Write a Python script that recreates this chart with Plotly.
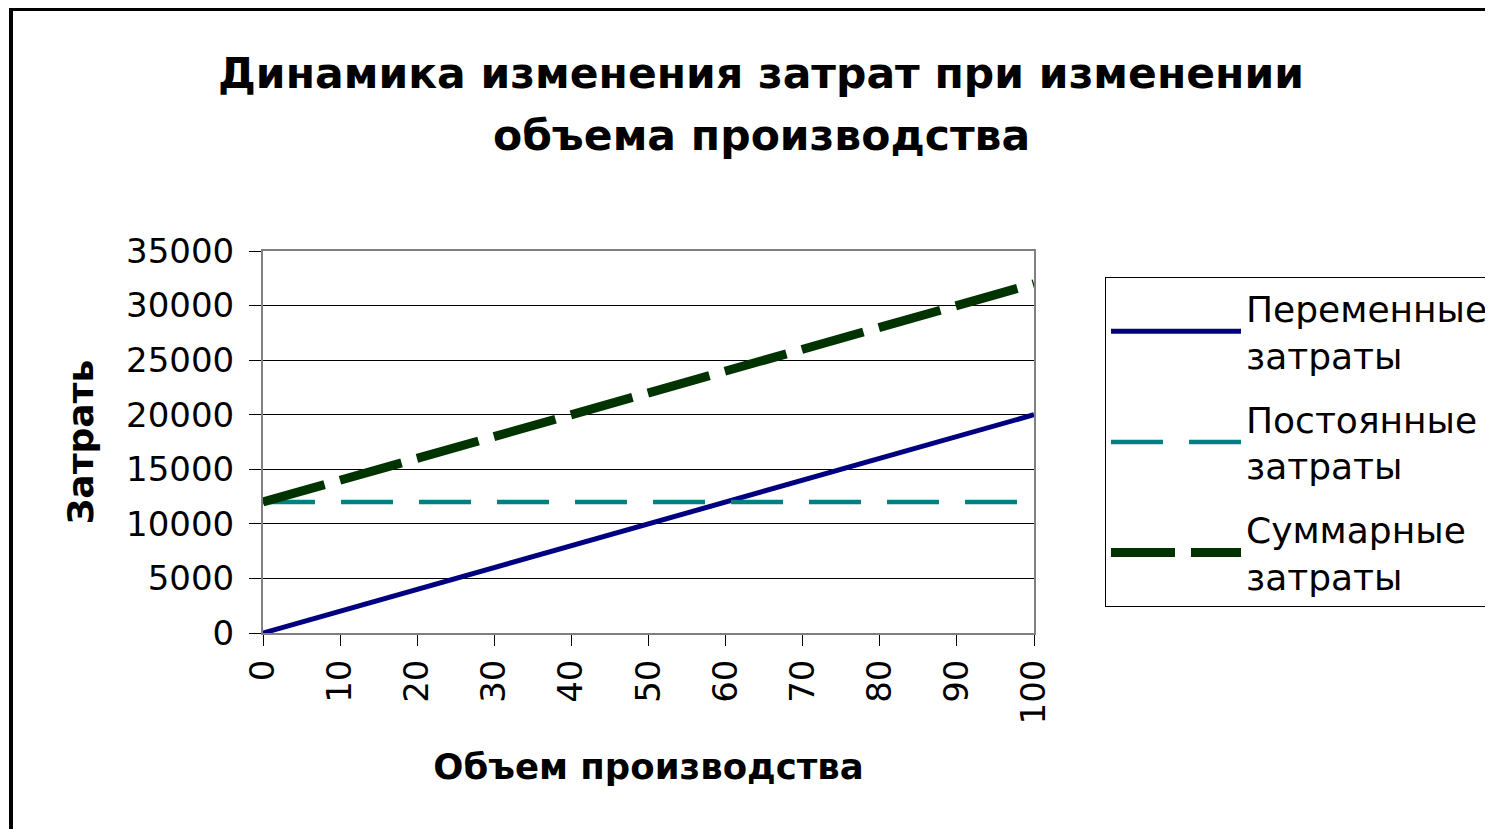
import plotly.graph_objects as go

volume = [0, 10, 20, 30, 40, 50, 60, 70, 80, 90, 100]
variable_costs = [0, 2000, 4000, 6000, 8000, 10000, 12000, 14000, 16000, 18000, 20000]
fixed_costs = [12000, 12000, 12000, 12000, 12000, 12000, 12000, 12000, 12000, 12000, 12000]
total_costs = [12000, 14000, 16000, 18000, 20000, 22000, 24000, 26000, 28000, 30000, 32000]
y_ticks = [0, 5000, 10000, 15000, 20000, 25000, 30000, 35000]
x_ticks = [0, 10, 20, 30, 40, 50, 60, 70, 80, 90, 100]

title_lines = ["Динамика изменения затрат при изменении", "объема производства"]
x_title = "Объем производства"
y_title = "Затрать"
names = ["Переменные<br>затраты", "Постоянные<br>затраты", "Суммарные<br>затраты"]

W, H = 1493, 829
OFF = 8  # page body offset
L, R, T, B = 263 - OFF, 1034 - OFF, 251 - OFF, 633 - OFF

fig = go.Figure()
fig.add_trace(go.Scatter(x=volume, y=variable_costs, mode="lines", name=names[0],
                         legendgroup="a", line=dict(color="#000080", width=5)))
fig.add_trace(go.Scatter(x=volume, y=fixed_costs, mode="lines", name=names[1],
                         legendgroup="b", line=dict(color="#008080", width=4.5, dash="52px,26px")))
fig.add_trace(go.Scatter(x=volume, y=total_costs, mode="lines", name=names[2],
                         legendgroup="c", line=dict(color="#003300", width=9, dash="64px,16px")))

pw = R - L
ph = B - T
def px_x(p):
    return (p - OFF - L) / pw
def px_y(p):
    return (B - (p - OFF)) / ph

annotations = []
for i, (line, yc) in enumerate(zip(title_lines, [73, 135])):
    annotations.append(dict(text=line, xref="paper", yref="paper",
                            x=px_x(761), y=px_y(yc), xanchor="center", yanchor="middle",
                            showarrow=False,
                            font=dict(family="DejaVu Sans", size=42.5, color="black", weight="bold")))

fig.update_layout(
    width=W, height=H,
    margin=dict(l=L, r=W - R, t=T, b=H - B, autoexpand=False),
    paper_bgcolor="white", plot_bgcolor="white",
    font=dict(family="DejaVu Sans", color="black", size=34),
    showlegend=True,
    legend=dict(x=px_x(1105), y=px_y(277), xanchor="left", yanchor="top",
                bordercolor="black", borderwidth=1, bgcolor="white",
                font=dict(size=36, family="DejaVu Sans"), itemwidth=130,
                tracegroupgap=14),
    xaxis=dict(range=[0, 100], tickvals=x_ticks, ticktext=[str(v) for v in x_ticks],
               tickangle=-90, ticks="outside", ticklen=11, tickcolor="#000",
               showline=True, linecolor="#808080", linewidth=2, mirror=True,
               showgrid=False, zeroline=False,
               title=dict(text=x_title, font=dict(size=35.5, weight="bold"), standoff=31)),
    yaxis=dict(range=[0, 35000], tickvals=y_ticks, ticktext=[str(v) for v in y_ticks],
               ticks="outside", ticklen=12, tickcolor="#000", ticklabelstandoff=8,
               showline=True, linecolor="#808080", linewidth=2, mirror=True,
               showgrid=True, gridcolor="#000000", gridwidth=1, zeroline=False,
               title=dict(text=y_title, font=dict(size=36, weight="bold"), standoff=21)),
    annotations=annotations,
    shapes=[dict(type="rect", xref="paper", yref="paper",
                 x0=px_x(11), x1=px_x(W + 30), y0=px_y(H + 30), y1=px_y(9),
                 line=dict(color="black", width=4), layer="below")],
)

fig.write_html("out.html")
